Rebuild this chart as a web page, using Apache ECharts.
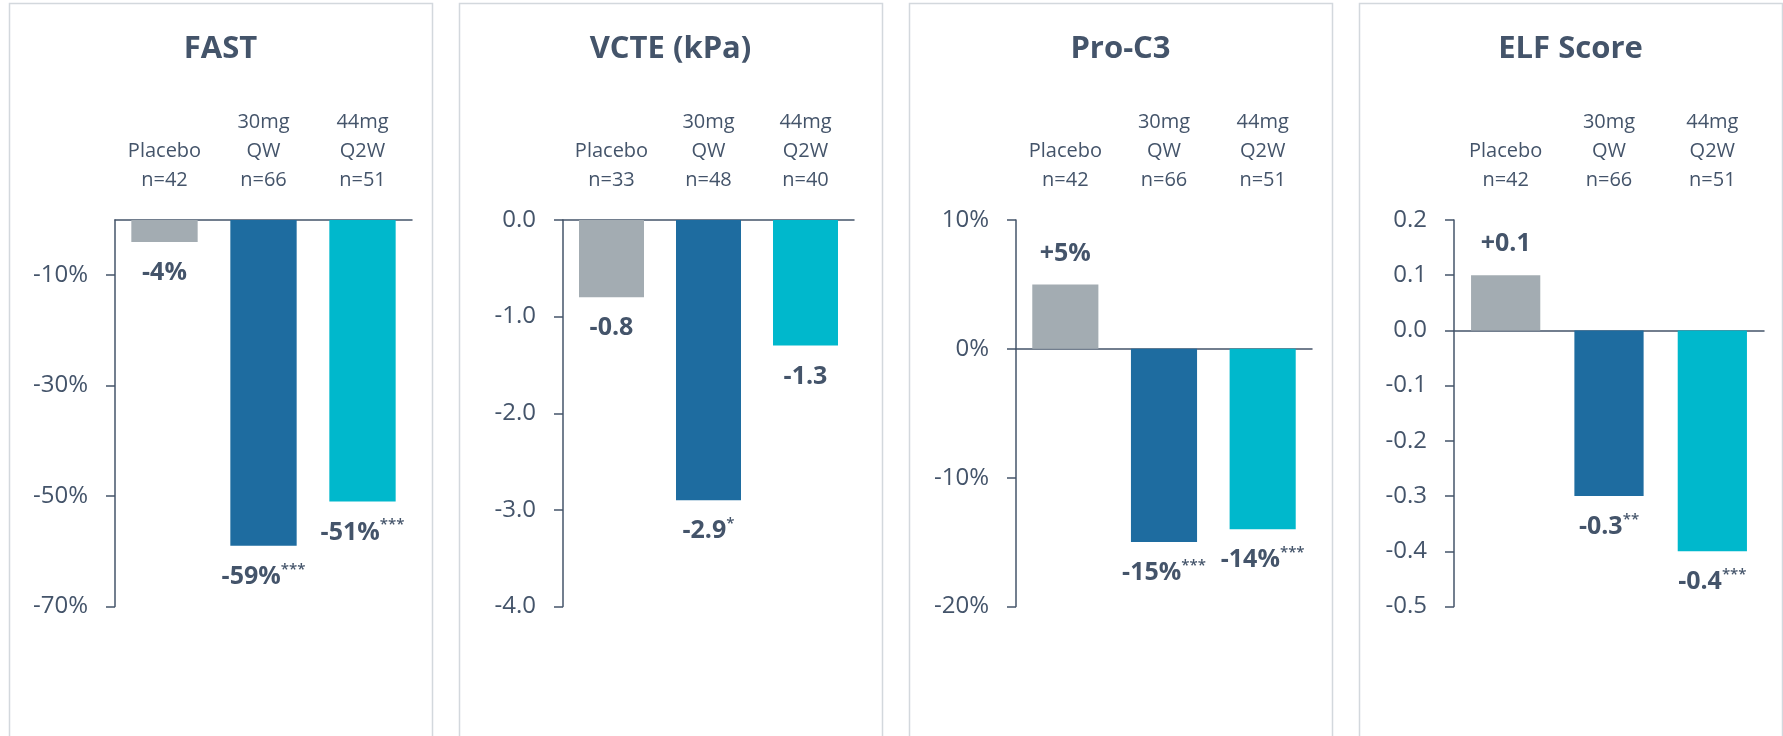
<!DOCTYPE html>
<html lang="en">
<head>
    <meta charset="utf-8">
    <title>Fibrosis markers</title>
    <script src="https://cdn.jsdelivr.net/npm/echarts@6/dist/echarts.min.js"></script>
    <style>
        html, body, #main {
            width: 100%;
            height: 100%;
            margin: 0;
            padding: 0;
            overflow: hidden;
            background-color: #ffffff;
        }
    </style>
</head>
<body>
<div id="main" style="width: 1783px;height:736px;"></div>
<script>
    // data
    var fastCats = ['Placebo\nn=42', '30mg\nQW\nn=66', '44mg\nQ2W\nn=51'];
    var fastValues = [-4, -59, -51];
    var fastStars = ['', '***', '***'];
    var fastTicks = [-70, -50, -30, -10];

    var vcteCats = ['Placebo\nn=33', '30mg\nQW\nn=48', '44mg\nQ2W\nn=40'];
    var vcteValues = [-0.8, -2.9, -1.3];
    var vcteStars = ['', '*', ''];
    var vcteTicks = [-4, -3, -2, -1, 0];

    var proCats = ['Placebo\nn=42', '30mg\nQW\nn=66', '44mg\nQ2W\nn=51'];
    var proValues = [5, -15, -14];
    var proStars = ['', '***', '***'];
    var proTicks = [-20, -10, 0, 10];

    var elfCats = ['Placebo\nn=42', '30mg\nQW\nn=66', '44mg\nQ2W\nn=51'];
    var elfValues = [0.1, -0.3, -0.4];
    var elfStars = ['', '**', '***'];
    var elfTicks = [-0.5, -0.4, -0.3, -0.2, -0.1, 0, 0.1, 0.2];

    var textColor = '#44546A';
    var barColors = ['#A3ACB2', '#1E6CA0', '#00B8CC'];
    var font = 'Open Sans';

    var panels = [
        {title: 'FAST', cats: fastCats, values: fastValues, stars: fastStars, ticks: fastTicks,
            min: -70, max: 0, unit: '%', dec: 0, box: 9, grid: [115, 297]},
        {title: 'VCTE (kPa)', cats: vcteCats, values: vcteValues, stars: vcteStars, ticks: vcteTicks,
            min: -4, max: 0, unit: '', dec: 1, box: 459, grid: [563, 291]},
        {title: 'Pro-C3', cats: proCats, values: proValues, stars: proStars, ticks: proTicks,
            min: -20, max: 10, unit: '%', dec: 0, box: 909, grid: [1016, 296]},
        {title: 'ELF Score', cats: elfCats, values: elfValues, stars: elfStars, ticks: elfTicks,
            min: -0.5, max: 0.2, unit: '', dec: 1, box: 1359, grid: [1454, 310]}
    ];

    var titles = [], grids = [], xAxes = [], yAxes = [], series = [], graphics = [];

    panels.forEach(function (p, i) {
        graphics.push({
            type: 'rect',
            shape: {x: p.box + 0.5, y: 3.5, width: 423, height: 780},
            style: {fill: 'none', stroke: '#D3D8DD', lineWidth: 1.5},
            silent: true
        });
        titles.push({
            text: p.title,
            left: p.box + 211.5,
            top: 31,
            padding: 0,
            textAlign: 'center',
            textStyle: {fontSize: 31, fontWeight: 'bold', color: textColor, fontFamily: font, lineHeight: 36}
        });
        grids.push({left: p.grid[0], top: 220, width: p.grid[1], height: 386.5});

        // category labels on top
        xAxes.push({
            gridIndex: i,
            type: 'category',
            data: p.cats,
            position: 'top',
            axisLine: {show: false, onZero: false},
            axisTick: {show: false},
            axisLabel: {
                interval: 0, margin: 25, color: textColor, fontSize: 20,
                lineHeight: 29, fontFamily: font
            }
        });
        // zero line
        xAxes.push({
            gridIndex: i,
            type: 'category',
            data: p.cats,
            position: 'bottom',
            axisLine: {show: true, onZero: true, lineStyle: {color: textColor, width: 1.5}},
            axisTick: {show: false},
            axisLabel: {show: false}
        });
        yAxes.push({
            gridIndex: i,
            type: 'value',
            min: p.min,
            max: p.max,
            axisLine: {show: true, lineStyle: {color: textColor, width: 1.5}},
            axisTick: {show: true, length: 9, customValues: p.ticks, lineStyle: {color: textColor, width: 1.5}},
            axisLabel: {
                customValues: p.ticks,
                margin: 27,
                color: textColor,
                fontSize: 24,
                fontFamily: font,
                formatter: function (v) {
                    return p.unit === '%' ? Math.round(v) + '%' : v.toFixed(p.dec);
                }
            },
            splitLine: {show: false}
        });

        series.push({
            type: 'bar',
            xAxisIndex: i * 2,
            yAxisIndex: i,
            barWidth: '67%',
            data: p.values.map(function (v, j) {
                return {
                    value: v,
                    itemStyle: {color: barColors[j]},
                    label: {position: v < 0 ? 'bottom' : 'top'}
                };
            }),
            label: {
                show: true,
                distance: 16,
                formatter: function (d) {
                    var v = p.values[d.dataIndex];
                    var s = (v > 0 ? '+' : '') + v.toFixed(p.dec) + p.unit;
                    var st = p.stars[d.dataIndex];
                    return '{v|' + s + '}' + (st ? '{s|' + st + '}' : '');
                },
                rich: {
                    v: {fontSize: 25, fontWeight: 'bold', color: textColor, lineHeight: 30, fontFamily: font},
                    s: {fontSize: 15, fontWeight: 600, color: textColor, lineHeight: 16,
                        verticalAlign: 'top', fontFamily: font}
                }
            }
        });
    });

    var myChart = echarts.init(document.getElementById('main'));
    myChart.setOption({
        animation: false,
        title: titles,
        grid: grids,
        xAxis: xAxes,
        yAxis: yAxes,
        series: series,
        graphic: graphics
    });
</script>
</body>
</html>
